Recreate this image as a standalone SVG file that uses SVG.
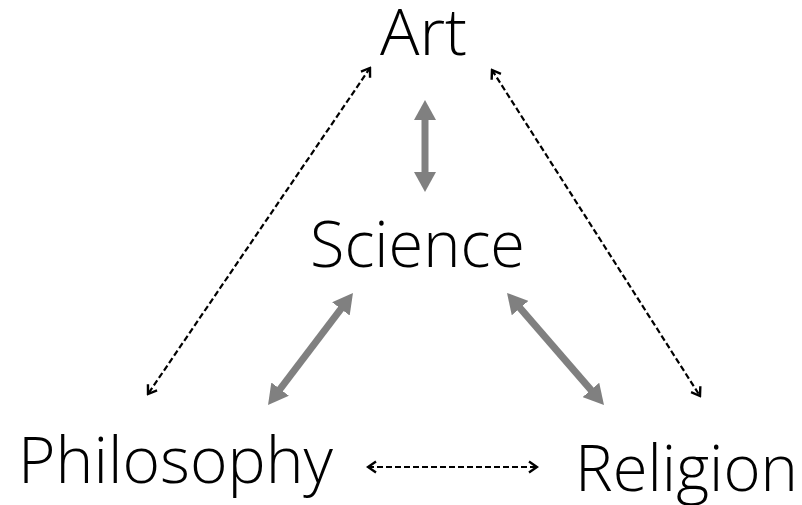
<svg xmlns="http://www.w3.org/2000/svg" width="802" height="505" viewBox="0 0 802 505">
<style>
.lbl{font-family:"Open Sans","Noto Sans","Liberation Sans",sans-serif;font-size:64px;font-weight:300;fill:#000}
.thick{stroke:#808080;stroke-width:7;fill:none}
.dash{stroke:#000;stroke-width:2.2;stroke-dasharray:6 3;fill:none}
</style>
<defs>
<marker id="gh" markerUnits="userSpaceOnUse" viewBox="0 0 20 22" refX="2" refY="11" markerWidth="20" markerHeight="22" orient="auto-start-reverse">
<path d="M0,0 L20,11 L0,22 z" fill="#808080"/>
</marker>
<marker id="ch" markerUnits="userSpaceOnUse" viewBox="0 0 14 14" refX="12" refY="7" markerWidth="14" markerHeight="14" orient="auto-start-reverse">
<path d="M4,1.5 L12,7 L4,12.5" fill="none" stroke="#000" stroke-width="2.4"/>
</marker>
</defs>
<g id="connectors">
<line class="thick" x1="425" y1="118" x2="425" y2="174" marker-start="url(#gh)" marker-end="url(#gh)"/>
<line class="thick" x1="342.1" y1="307.3" x2="278.9" y2="390.7" marker-start="url(#gh)" marker-end="url(#gh)"/>
<line class="thick" x1="518.8" y1="306.6" x2="592.2" y2="391.4" marker-start="url(#gh)" marker-end="url(#gh)"/>
<line class="dash" x1="370" y1="68" x2="148" y2="394" marker-start="url(#ch)" marker-end="url(#ch)"/>
<line class="dash" x1="492" y1="70" x2="700" y2="396" marker-start="url(#ch)" marker-end="url(#ch)"/>
<line class="dash" x1="368" y1="467" x2="537" y2="467" marker-start="url(#ch)" marker-end="url(#ch)"/>
</g>
<g id="art"><text class="lbl" x="380" y="55" textLength="87" lengthAdjust="spacingAndGlyphs">Art</text></g>
<g id="science"><text class="lbl" x="310" y="267" textLength="215" lengthAdjust="spacingAndGlyphs">Science</text></g>
<g id="philosophy"><text class="lbl" x="18" y="483" textLength="315" lengthAdjust="spacingAndGlyphs">Philosophy</text></g>
<g id="religion"><text class="lbl" x="575" y="491" textLength="223" lengthAdjust="spacingAndGlyphs">Religion</text></g>
</svg>
